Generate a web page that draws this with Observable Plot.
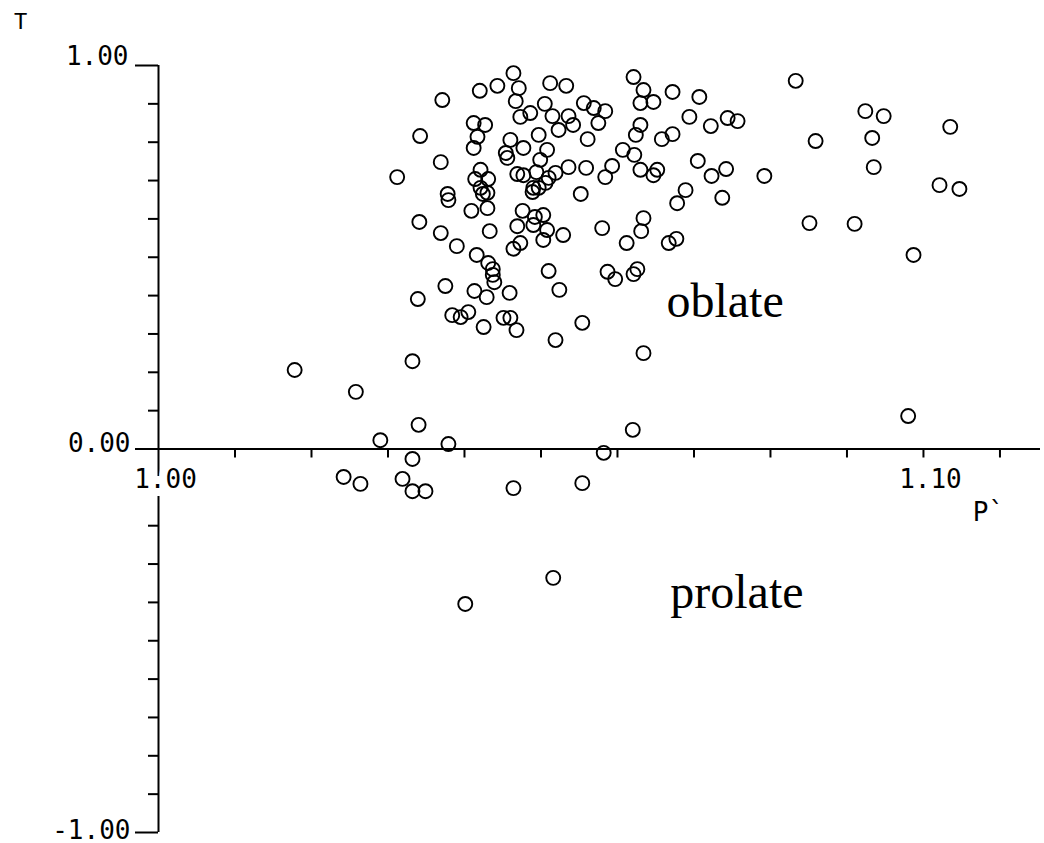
<!DOCTYPE html>
<html>
<head>
<meta charset="utf-8">
<script src="https://cdn.jsdelivr.net/npm/d3@7"></script>
<script src="https://cdn.jsdelivr.net/npm/@observablehq/plot@0.6"></script>
<style>
  html, body { margin: 0; padding: 0; background: #fff; }
  #chart svg { display: block; }
</style>
</head>
<body>
<div id="chart"></div>
<script>
// P' (x) values
const pValues = [
  1.0464, 1.0443, 1.0420, 1.0471, 1.0467, 1.0512, 1.0533, 1.0371, 1.0505, 1.0556,
  1.0569, 1.0584, 1.0621, 1.0634, 1.0630, 1.0647, 1.0672, 1.0707, 1.0833, 1.0924,
  1.0948, 1.1035, 1.0342, 1.0473, 1.0486, 1.0515, 1.0536, 1.0412, 1.0427, 1.0417,
  1.0412, 1.0497, 1.0523, 1.0542, 1.0575, 1.0561, 1.0460, 1.0477, 1.0454, 1.0456,
  1.0508, 1.0499, 1.0369, 1.0312, 1.0421, 1.0414, 1.0431, 1.0421, 1.0430, 1.0378,
  1.0379, 1.0469, 1.0477, 1.0494, 1.0510, 1.0519, 1.0536, 1.0559, 1.0490, 1.0497,
  1.0506, 1.0552, 1.0630, 1.0624, 1.0694, 1.0722, 1.0744, 1.0757, 1.0658, 1.0672,
  1.0607, 1.0622, 1.0593, 1.0584, 1.0630, 1.0652, 1.0647, 1.0705, 1.0723, 1.0742,
  1.0792, 1.0689, 1.0678, 1.0737, 1.0859, 1.0933, 1.0935, 1.1021, 1.1047, 1.0851,
  1.0910, 1.0987, 1.0634, 1.0631, 1.0580, 1.0612, 1.0667, 1.0677, 1.0587, 1.0597,
  1.0621, 1.0626, 1.0554, 1.0634, 1.0424, 1.0489, 1.0409, 1.0430, 1.0476, 1.0492,
  1.0503, 1.0341, 1.0469, 1.0490, 1.0508, 1.0529, 1.0369, 1.0433, 1.0503, 1.0473,
  1.0464, 1.0390, 1.0416, 1.0431, 1.0437, 1.0437, 1.0439, 1.0510, 1.0375, 1.0413,
  1.0429, 1.0459, 1.0524, 1.0339, 1.0384, 1.0395, 1.0405, 1.0451, 1.0460, 1.0425,
  1.0468, 1.0519, 1.0332, 1.0178, 1.0258, 1.0340, 1.0290, 1.0379, 1.0620, 1.0582,
  1.0332, 1.0242, 1.0264, 1.0319, 1.0332, 1.0349, 1.0464, 1.0554, 1.0516, 1.0401,
  1.0980
];
// T (y) values
const tValues = [
  0.980, 0.947, 0.934, 0.941, 0.907, 0.954, 0.947, 0.910, 0.900, 0.902,
  0.889, 0.881, 0.970, 0.936, 0.902, 0.905, 0.931, 0.918, 0.960, 0.881,
  0.868, 0.840, 0.816, 0.866, 0.876, 0.868, 0.868, 0.850, 0.845, 0.814,
  0.785, 0.819, 0.832, 0.845, 0.850, 0.808, 0.806, 0.785, 0.772, 0.759,
  0.780, 0.754, 0.748, 0.709, 0.728, 0.704, 0.704, 0.681, 0.668, 0.665,
  0.649, 0.717, 0.714, 0.722, 0.707, 0.720, 0.735, 0.733, 0.681, 0.681,
  0.694, 0.665, 0.845, 0.819, 0.866, 0.842, 0.863, 0.855, 0.808, 0.821,
  0.780, 0.767, 0.738, 0.709, 0.728, 0.728, 0.714, 0.751, 0.712, 0.730,
  0.712, 0.675, 0.641, 0.655, 0.803, 0.811, 0.735, 0.688, 0.678, 0.589,
  0.587, 0.506, 0.602, 0.568, 0.576, 0.537, 0.537, 0.548, 0.462, 0.443,
  0.456, 0.469, 0.329, 0.250, 0.665, 0.670, 0.621, 0.628, 0.621, 0.605,
  0.610, 0.592, 0.581, 0.584, 0.571, 0.558, 0.563, 0.568, 0.545, 0.537,
  0.522, 0.529, 0.506, 0.485, 0.469, 0.454, 0.435, 0.464, 0.425, 0.412,
  0.396, 0.407, 0.415, 0.391, 0.349, 0.344, 0.357, 0.342, 0.342, 0.318,
  0.310, 0.284, 0.229, 0.206, 0.149, 0.063, 0.023, 0.013, 0.050, -0.010,
  -0.026, -0.073, -0.091, -0.078, -0.110, -0.110, -0.102, -0.089, -0.336, -0.404,
  0.086
];

// Axis ticks and labels
const xTickValues = [1.01, 1.02, 1.03, 1.04, 1.05, 1.06, 1.07, 1.08, 1.09, 1.10, 1.11];
const xLabelValues = [1.00, 1.10];
const xLabelTexts = ["1.00", "1.10"];
const yMinorTicks = [-0.9, -0.8, -0.7, -0.6, -0.5, -0.4, -0.3, -0.2, -0.1,
                     0.1, 0.2, 0.3, 0.4, 0.5, 0.6, 0.7, 0.8, 0.9];
const yMajorTicks = [-1, 0, 1];
const yLabelTexts = ["-1.00", "0.00", "1.00"];
const xTitle = "P`";
const yTitle = "T";

// Region annotations
const regionLabels = ["oblate", "prolate"];
const regionP = [1.0664, 1.0669];
const regionT = [0.344, -0.415];

const points = pValues.map((p, i) => ({p, t: tValues[i]}));
const xLabels = xLabelValues.map((v, i) => ({v, label: xLabelTexts[i]}));
const yLabels = yMajorTicks.map((v, i) => ({v, label: yLabelTexts[i]}));
const regions = regionLabels.map((label, i) => ({label, p: regionP[i], t: regionT[i]}));

const W = 1044, H = 843;
const mono = "DejaVu Sans Mono";
const pxPerX = 7650; // used only to express tick lengths in pixels
const pxPerY = 383.5;
const lw = 2;

const chart = Plot.plot({
  width: W,
  height: H,
  marginTop: 65,
  marginBottom: 11,
  marginLeft: 158,
  marginRight: 4,
  style: {background: "white", color: "black"},
  x: {domain: [1, 1.1153], axis: null},
  y: {domain: [-1, 1], axis: null},
  marks: [
    // x axis line through T = 0
    Plot.ruleY([0], {stroke: "black", strokeWidth: lw}),
    // x ticks (pointing down)
    Plot.ruleX(xTickValues, {y1: 0, y2: -9 / pxPerY, stroke: "black", strokeWidth: lw}),
    // y axis line at P' = 1
    Plot.ruleX([1], {stroke: "black", strokeWidth: lw}),
    // y minor ticks (pointing left)
    Plot.ruleY(yMinorTicks, {x1: 1 - 10 / pxPerX, x2: 1, stroke: "black", strokeWidth: lw}),
    // y major ticks
    Plot.ruleY(yMajorTicks, {x1: 1 - 23 / pxPerX, x2: 1, stroke: "black", strokeWidth: lw}),
    // y labels
    Plot.text(yLabels.filter(d => d.v === 1), {x: 1, y: "v", text: "label", textAnchor: "end", lineAnchor: "bottom",
      dx: -30, dy: -1, fontFamily: mono, fontSize: 26, fill: "black"}),
    Plot.text(yLabels.filter(d => d.v === 0), {x: 1, y: "v", text: "label", textAnchor: "end", lineAnchor: "bottom",
      dx: -28, dy: 3, fontFamily: mono, fontSize: 26, fill: "black"}),
    Plot.text(yLabels.filter(d => d.v === -1), {x: 1, y: "v", text: "label", textAnchor: "end", lineAnchor: "bottom",
      dx: -28, dy: 6, fontFamily: mono, fontSize: 26, fill: "black"}),
    // x labels with white halo (breaks the y axis like the original)
    Plot.text(xLabels, {x: "v", y: 0, text: "label", textAnchor: "middle", lineAnchor: "bottom",
      dx: 7, dy: 39, fontFamily: mono, fontSize: 26, fill: "black",
      stroke: "white", strokeWidth: 16, paintOrder: "stroke"}),
    // axis titles
    Plot.text([yTitle], {frameAnchor: "top-left", dx: -138, dy: -37, lineAnchor: "bottom", textAnchor: "middle",
      fontFamily: mono, fontSize: 22, fill: "black"}),
    Plot.text([xTitle], {x: 1.1153, y: 0, dx: -52, dy: 72, lineAnchor: "bottom", textAnchor: "middle",
      fontFamily: mono, fontSize: 26, fill: "black"}),
    // region annotations
    Plot.text(regions, {x: "p", y: "t", text: "label", textAnchor: "start", lineAnchor: "bottom",
      fontFamily: "Liberation Serif", fontSize: 48, fill: "black", letterSpacing: "1px"}),
    // data points
    Plot.dot(points, {x: "p", y: "t", r: 7, stroke: "black", strokeWidth: 1.9, fill: "none"})
  ]
});

document.getElementById("chart").appendChild(chart);
</script>
</body>
</html>
